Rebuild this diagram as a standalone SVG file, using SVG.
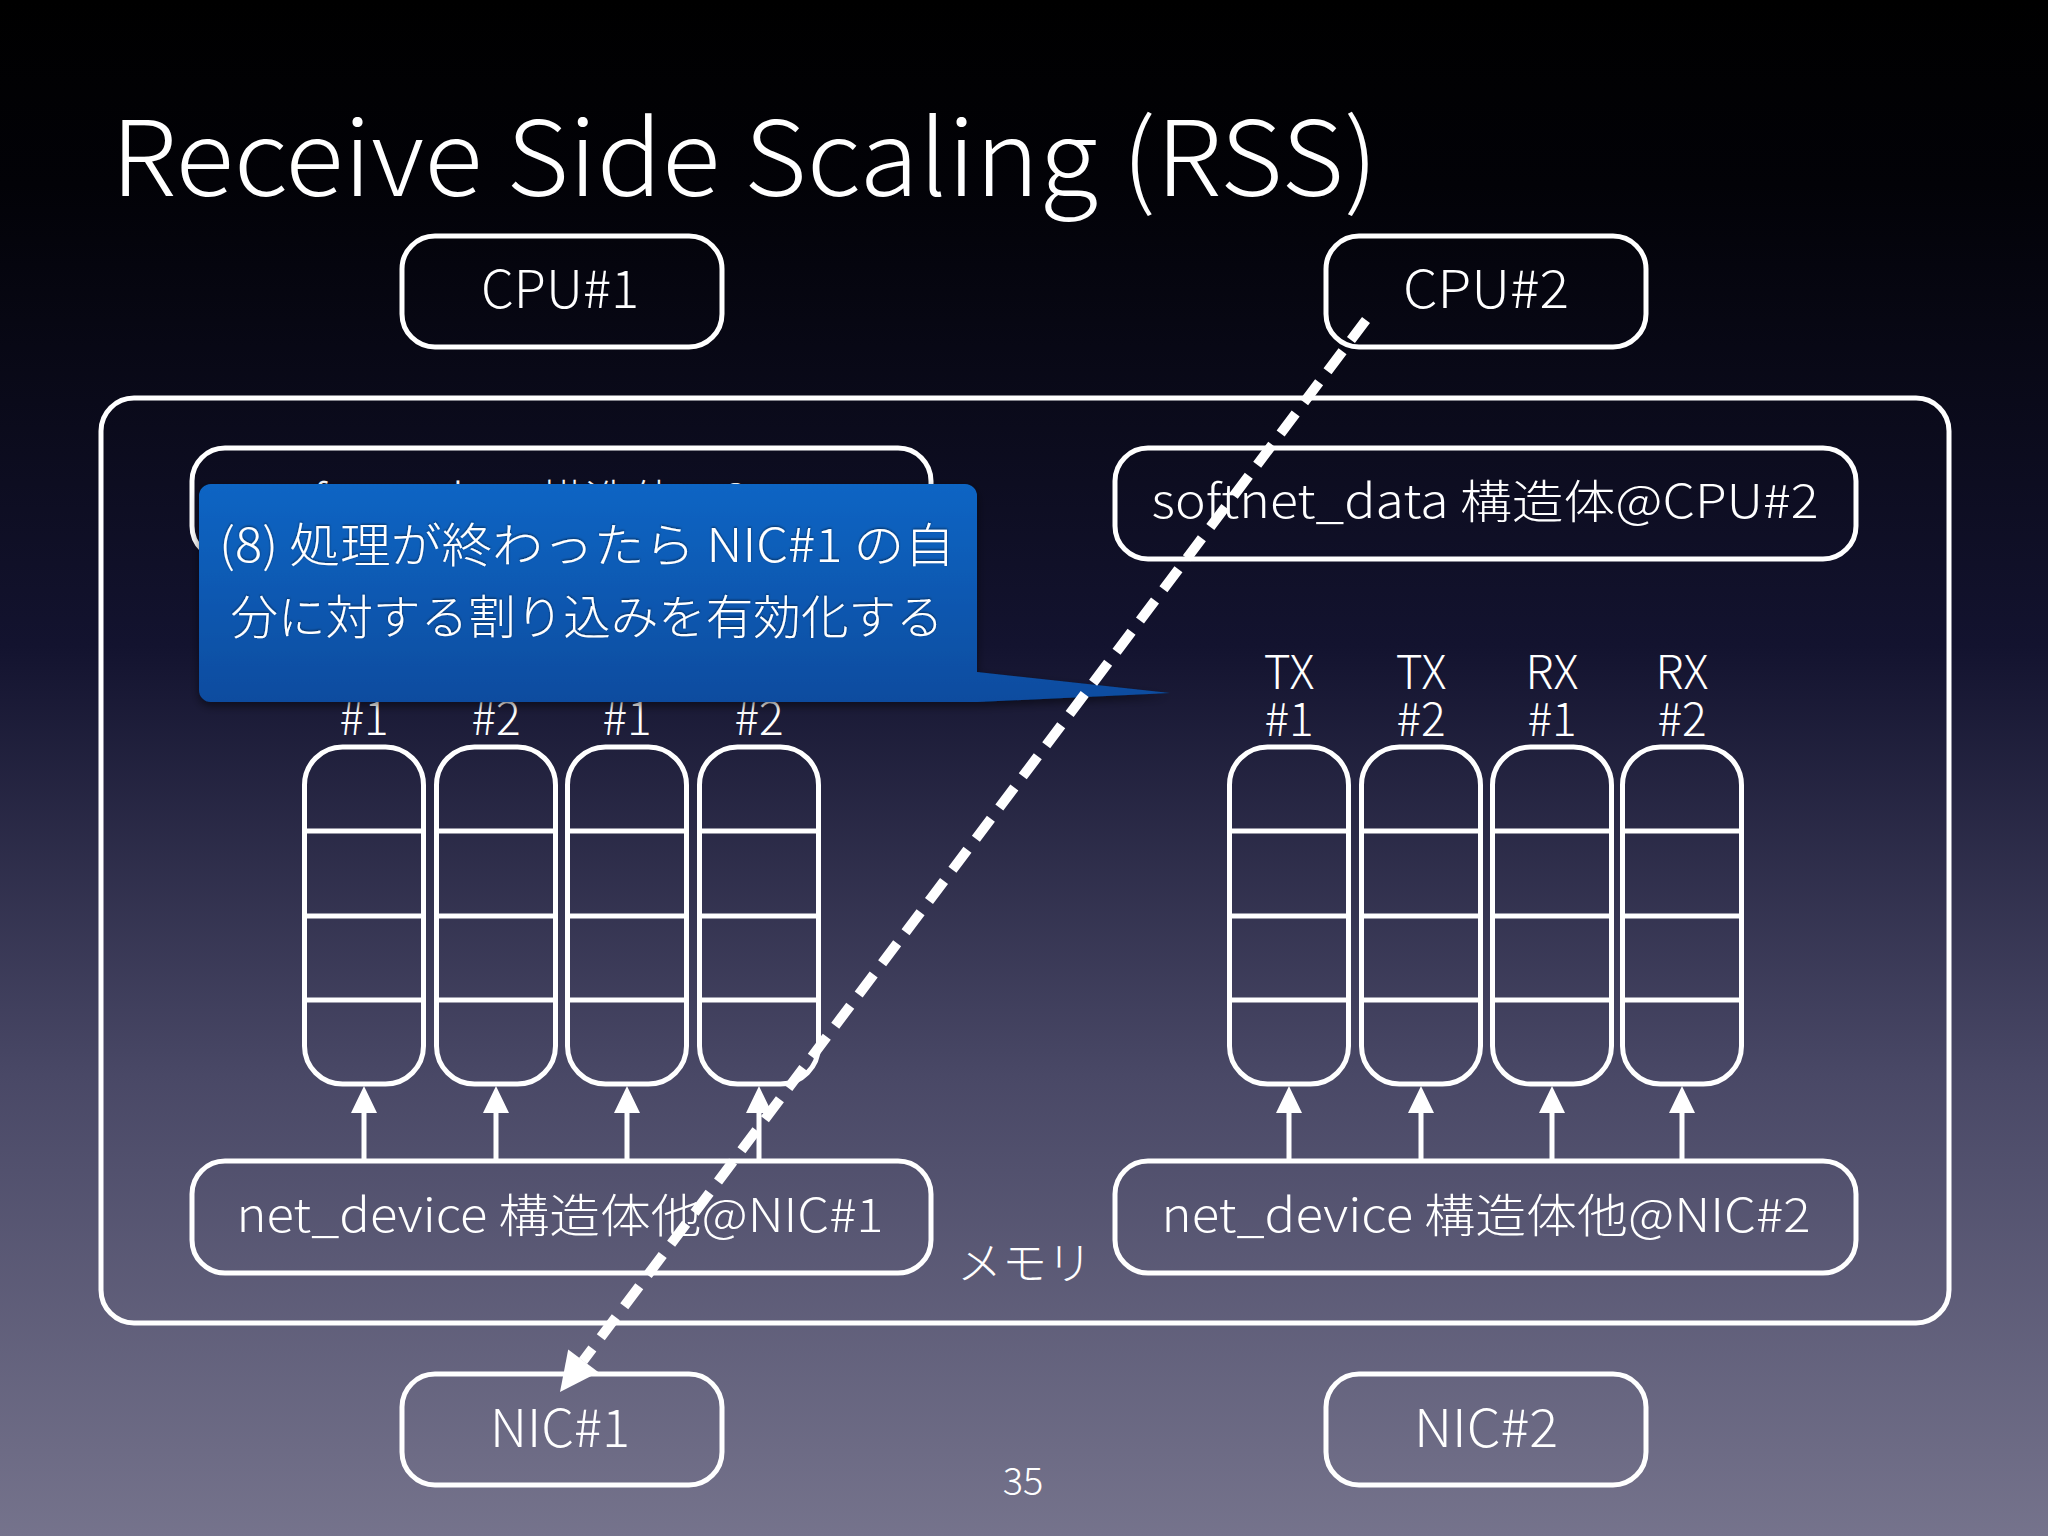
<svg xmlns="http://www.w3.org/2000/svg" width="2048" height="1536" viewBox="0 0 2048 1536">
<defs>
<linearGradient id="bg" x1="0" y1="0" x2="0" y2="1">
<stop offset="0" stop-color="#000000"/>
<stop offset="0.12" stop-color="#020207"/>
<stop offset="0.42" stop-color="#13132f"/>
<stop offset="0.7" stop-color="#494866"/>
<stop offset="1" stop-color="#75738c"/>
</linearGradient>
<linearGradient id="blue" x1="0" y1="0" x2="0" y2="1">
<stop offset="0" stop-color="#0b65c4"/>
<stop offset="1" stop-color="#0a4c9f"/>
</linearGradient>
<filter id="sh" x="-10%" y="-10%" width="120%" height="130%">
<feDropShadow dx="0" dy="4" stdDeviation="5" flood-color="#000" flood-opacity="0.5"/>
</filter>
<filter id="tsh" x="-5%" y="-20%" width="110%" height="140%">
<feDropShadow dx="0" dy="-1" stdDeviation="1" flood-color="#000" flood-opacity="0.5"/>
</filter>
</defs>
<style>
.box{fill:none;stroke:#fff;stroke-width:5}
.q{fill:none;stroke:#fff;stroke-width:5}
.t{fill:#fff;font-family:"Noto Sans CJK JP","Liberation Sans",sans-serif;font-weight:300}
.m{text-anchor:middle}
.arr{stroke:#fff;stroke-width:5}
.ah{fill:#fff}
</style>
<rect x="0" y="0" width="2048" height="1536" fill="url(#bg)"/>

<text class="t" x="111" y="196" font-size="104" textLength="1267" lengthAdjust="spacingAndGlyphs">Receive Side Scaling (RSS)</text>

<g id="cpu1"><rect class="box" x="402" y="236" width="320" height="111" rx="33"/><text class="t m" x="560" y="308" font-size="52" textLength="158" lengthAdjust="spacingAndGlyphs">CPU#1</text></g>
<g id="cpu2"><rect class="box" x="1326" y="236" width="320" height="111" rx="33"/><text class="t m" x="1486" y="308" font-size="52" textLength="166" lengthAdjust="spacingAndGlyphs">CPU#2</text></g>

<g id="memory"><rect class="box" x="101" y="398" width="1848" height="925" rx="33"/><text class="t" x="957" y="1280" font-size="45">メモリ</text></g>

<g id="softnet1"><rect class="box" x="192" y="448" width="739" height="111" rx="33"/><text class="t m" x="561" y="518" font-size="46">softnet_data 構造体@CPU#1</text></g>
<g id="softnet2"><rect class="box" x="1115" y="448" width="741" height="111" rx="33"/><text class="t m" x="1485" y="518" font-size="46" textLength="667" lengthAdjust="spacingAndGlyphs">softnet_data 構造体@CPU#2</text></g>

<g id="queues1">
<text class="t m" x="364" y="735" font-size="46">#1</text>
<text class="t m" x="496" y="735" font-size="46">#2</text>
<text class="t m" x="627" y="735" font-size="46">#1</text>
<text class="t m" x="759" y="735" font-size="46">#2</text>
<rect class="q" x="304.5" y="747" width="119" height="337" rx="38"/>
<rect class="q" x="436.5" y="747" width="119" height="337" rx="38"/>
<rect class="q" x="567.5" y="747" width="119" height="337" rx="38"/>
<rect class="q" x="699.5" y="747" width="119" height="337" rx="38"/>
<path class="q" d="M304.5 831H423.5M304.5 916H423.5M304.5 1000H423.5M436.5 831H555.5M436.5 916H555.5M436.5 1000H555.5M567.5 831H686.5M567.5 916H686.5M567.5 1000H686.5M699.5 831H818.5M699.5 916H818.5M699.5 1000H818.5"/>
</g>

<g id="queues2">
<text class="t m" x="1289" y="689" font-size="46">TX</text>
<text class="t m" x="1421" y="689" font-size="46">TX</text>
<text class="t m" x="1552" y="689" font-size="46">RX</text>
<text class="t m" x="1682" y="689" font-size="46">RX</text>
<text class="t m" x="1289" y="736" font-size="46">#1</text>
<text class="t m" x="1421" y="736" font-size="46">#2</text>
<text class="t m" x="1552" y="736" font-size="46">#1</text>
<text class="t m" x="1682" y="736" font-size="46">#2</text>
<rect class="q" x="1229.5" y="747" width="119" height="337" rx="38"/>
<rect class="q" x="1361.5" y="747" width="119" height="337" rx="38"/>
<rect class="q" x="1492.5" y="747" width="119" height="337" rx="38"/>
<rect class="q" x="1622.5" y="747" width="119" height="337" rx="38"/>
<path class="q" d="M1229.5 831H1348.5M1229.5 916H1348.5M1229.5 1000H1348.5M1361.5 831H1480.5M1361.5 916H1480.5M1361.5 1000H1480.5M1492.5 831H1611.5M1492.5 916H1611.5M1492.5 1000H1611.5M1622.5 831H1741.5M1622.5 916H1741.5M1622.5 1000H1741.5"/>
</g>

<g id="netdev1"><rect class="box" x="192" y="1161" width="739" height="112" rx="33"/><text class="t m" x="560" y="1232" font-size="46" textLength="647" lengthAdjust="spacingAndGlyphs">net_device 構造体他@NIC#1</text></g>
<g id="netdev2"><rect class="box" x="1115" y="1161" width="741" height="112" rx="33"/><text class="t m" x="1486" y="1232" font-size="46" textLength="649" lengthAdjust="spacingAndGlyphs">net_device 構造体他@NIC#2</text></g>

<g id="nic1"><rect class="box" x="402" y="1374" width="320" height="111" rx="33"/><text class="t m" x="560" y="1447" font-size="52" textLength="140" lengthAdjust="spacingAndGlyphs">NIC#1</text></g>
<g id="nic2"><rect class="box" x="1326" y="1374" width="320" height="111" rx="33"/><text class="t m" x="1486" y="1447" font-size="52" textLength="144" lengthAdjust="spacingAndGlyphs">NIC#2</text></g>

<g id="connectors">
<path class="arr" d="M364 1161V1108M496 1161V1108M627 1161V1108M759 1161V1108M1289 1161V1108M1421 1161V1108M1552 1161V1108M1682 1161V1108"/>
<path class="ah" d="M364 1086l-13 27h26zM496 1086l-13 27h26zM627 1086l-13 27h26zM759 1086l-13 27h26zM1289 1086l-13 27h26zM1421 1086l-13 27h26zM1552 1086l-13 27h26zM1682 1086l-13 27h26z"/>
</g>

<g id="callout" filter="url(#sh)">
<path d="M211 484H965A12 12 0 0 1 977 496V672L1170 693L977 702H211A12 12 0 0 1 199 690V496A12 12 0 0 1 211 484Z" fill="url(#blue)"/>
</g>
<g id="callout-text" filter="url(#tsh)">
<text class="t m" x="587" y="562" font-size="47" textLength="736" lengthAdjust="spacingAndGlyphs">(8) 処理が終わったら NIC#1 の自</text>
<text class="t m" x="587" y="634" font-size="47" textLength="713" lengthAdjust="spacingAndGlyphs">分に対する割り込みを有効化する</text>
</g>

<g id="dashed-connector">
<path d="M1366 320L583 1361" stroke="#fff" stroke-width="10" stroke-dasharray="25 14" fill="none"/>
<path d="M560 1392L598.6 1372.2L568.2 1349.4Z" fill="#fff"/>
</g>

<text class="t m" x="1023" y="1495" font-size="38">35</text>
</svg>
